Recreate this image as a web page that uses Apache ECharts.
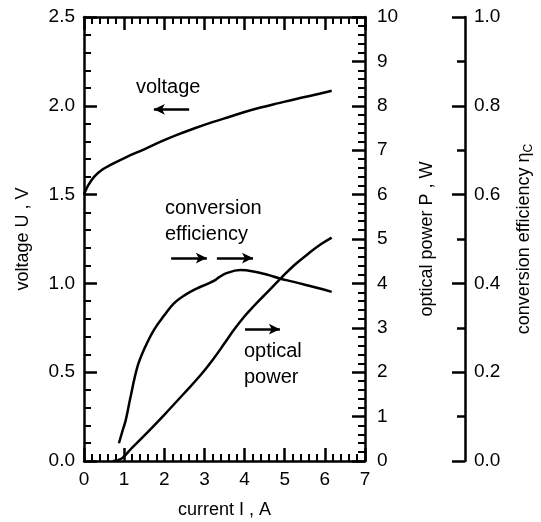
<!DOCTYPE html>
<html>
<head>
<meta charset="utf-8">
<script src="https://cdn.jsdelivr.net/npm/echarts@6/dist/echarts.min.js"></script>
<style>
  html, body { margin: 0; padding: 0; background: #fff; }
  #chart { width: 541px; height: 522px; }
</style>
</head>
<body>
<div id="chart"></div>
<script>
// current I (A) -> voltage U (V)
const voltageI = [0, 0.1, 0.25, 0.45, 0.66, 1.07, 1.5, 1.91, 2.3, 2.74, 3.2, 3.65, 4.0, 4.4, 4.85, 5.31, 5.75, 6.17]
const voltageU = [1.50, 1.55, 1.60, 1.64, 1.667, 1.713, 1.755, 1.798, 1.835, 1.872, 1.908, 1.94, 1.965, 1.99, 2.015, 2.04, 2.062, 2.085]

// current I (A) -> optical power P (W)
const powerI = [0.72, 0.85, 0.96, 1.2, 1.66, 2.0, 2.49, 2.9, 3.24, 3.5, 3.74, 4.0, 4.22, 4.5, 4.92, 5.25, 5.63, 5.9, 6.17]
const powerP = [0, 0.02, 0.07, 0.3, 0.72, 1.04, 1.52, 1.93, 2.32, 2.65, 2.96, 3.26, 3.48, 3.74, 4.13, 4.42, 4.7, 4.88, 5.03]

// current I (A) -> conversion efficiency
const effI = [0.87, 0.95, 1.04, 1.15, 1.33, 1.5, 1.74, 2.0, 2.24, 2.5, 2.82, 3.05, 3.28, 3.35, 3.55, 3.89, 4.22, 4.55, 4.88, 5.2, 5.55, 5.85, 6.17]
const effEta = [0.04, 0.065, 0.092, 0.14, 0.212, 0.252, 0.295, 0.328, 0.355, 0.373, 0.389, 0.398, 0.408, 0.413, 0.423, 0.43, 0.427, 0.42, 0.411, 0.404, 0.396, 0.389, 0.381]

const font = 'Liberation Sans, Arial, sans-serif'
const black = '#000'

function zip(a, b) {
  let out = []
  for (let i = 0; i < a.length; i++) out.push([a[i], b[i]])
  return out
}

// shared look of the framed axes
function frameAxis(extra) {
  return Object.assign({
    axisLine: {show: true, onZero: false, lineStyle: {color: black, width: 2.5}},
    axisTick: {show: true, inside: true, length: 13, lineStyle: {color: black, width: 2.5}},
    minorTick: {show: true, splitNumber: 5, length: 7, lineStyle: {color: black, width: 2}},
    splitLine: {show: false},
    axisLabel: {color: black, fontSize: 19, fontFamily: font},
    nameTextStyle: {color: black, fontSize: 18, fontFamily: font},
  }, extra)
}

const arrowLine = {
  silent: true,
  symbol: ['none', 'arrow'],
  symbolSize: [8, 11],
  label: {show: false},
  lineStyle: {color: black, width: 2.5, type: 'solid'},
}

const option = {
  animation: false,
  backgroundColor: '#fff',
  grid: {left: 84, top: 17, width: 281, height: 444, containLabel: false, outerBoundsMode: 'none'},
  xAxis: [
    frameAxis({
      type: 'value', min: 0, max: 7, interval: 1, position: 'bottom',
      axisLabel: {color: black, fontSize: 19, fontFamily: font, margin: 9},
      name: 'current I , A', nameLocation: 'middle', nameGap: 40,
    }),
    frameAxis({
      type: 'value', min: 0, max: 7, interval: 1, position: 'top',
      axisLabel: {show: false},
    }),
  ],
  yAxis: [
    frameAxis({
      type: 'value', min: 0, max: 2.5, interval: 0.5, position: 'left',
      axisLabel: {color: black, fontSize: 19, fontFamily: font, margin: 9, formatter: v => v.toFixed(1)},
      name: 'voltage U , V', nameLocation: 'middle', nameGap: 52,
    }),
    frameAxis({
      type: 'value', min: 0, max: 10, interval: 1, position: 'right',
      axisLabel: {color: black, fontSize: 19, fontFamily: font, margin: 12},
      name: 'optical power P , W', nameLocation: 'middle', nameGap: 53,
    }),
    {
      type: 'value', min: 0, max: 1, interval: 0.2, position: 'right', offset: 100,
      axisLine: {show: true, onZero: false, lineStyle: {color: black, width: 2.5}},
      axisTick: {show: true, inside: true, length: 13, lineStyle: {color: black, width: 2.5}},
      minorTick: {show: true, splitNumber: 2, length: 8, lineStyle: {color: black, width: 2.5}},
      splitLine: {show: false},
      axisLabel: {color: black, fontSize: 19, fontFamily: font, margin: 9, formatter: v => v.toFixed(1)},
      name: 'conversion efficiency η{sub|C}', nameLocation: 'middle', nameGap: 48,
      nameTextStyle: {
        color: black, fontSize: 18, fontFamily: font,
        rich: {sub: {fontSize: 12, fontFamily: font, color: black, padding: [10, 0, 0, 0]}}
      },
    },
  ],
  graphic: [
    {type: 'text', left: 136, top: 77, style: {text: 'voltage', font: '20px ' + font, fill: black}},
    {type: 'text', left: 165, top: 198, style: {text: 'conversion', font: '20px ' + font, fill: black}},
    {type: 'text', left: 165, top: 224, style: {text: 'efficiency', font: '20px ' + font, fill: black}},
    {type: 'text', left: 244, top: 341, style: {text: 'optical', font: '20px ' + font, fill: black}},
    {type: 'text', left: 244, top: 367, style: {text: 'power', font: '20px ' + font, fill: black}},
  ],
  series: [
    {
      name: 'voltage', type: 'line', xAxisIndex: 0, yAxisIndex: 0,
      data: zip(voltageI, voltageU), smooth: 0.4, showSymbol: false,
      lineStyle: {color: black, width: 2.5},
      markLine: Object.assign({data: [[{coord: [2.62, 1.98]}, {coord: [1.74, 1.98]}]]}, arrowLine),
    },
    {
      name: 'optical power', type: 'line', xAxisIndex: 0, yAxisIndex: 1,
      data: zip(powerI, powerP), smooth: 0.4, showSymbol: false,
      lineStyle: {color: black, width: 2.5},
      markLine: Object.assign({data: [[{coord: [4.01, 2.97]}, {coord: [4.88, 2.97]}]]}, arrowLine),
    },
    {
      name: 'conversion efficiency', type: 'line', xAxisIndex: 0, yAxisIndex: 2,
      data: zip(effI, effEta), smooth: 0.4, showSymbol: false,
      lineStyle: {color: black, width: 2.5},
      markLine: Object.assign({data: [
        [{coord: [2.17, 0.457]}, {coord: [3.06, 0.457]}],
        [{coord: [3.31, 0.457]}, {coord: [4.21, 0.457]}],
      ]}, arrowLine),
    },
  ]
}

const myChart = echarts.init(document.getElementById('chart'))
myChart.setOption(option)
</script>
</body>
</html>
